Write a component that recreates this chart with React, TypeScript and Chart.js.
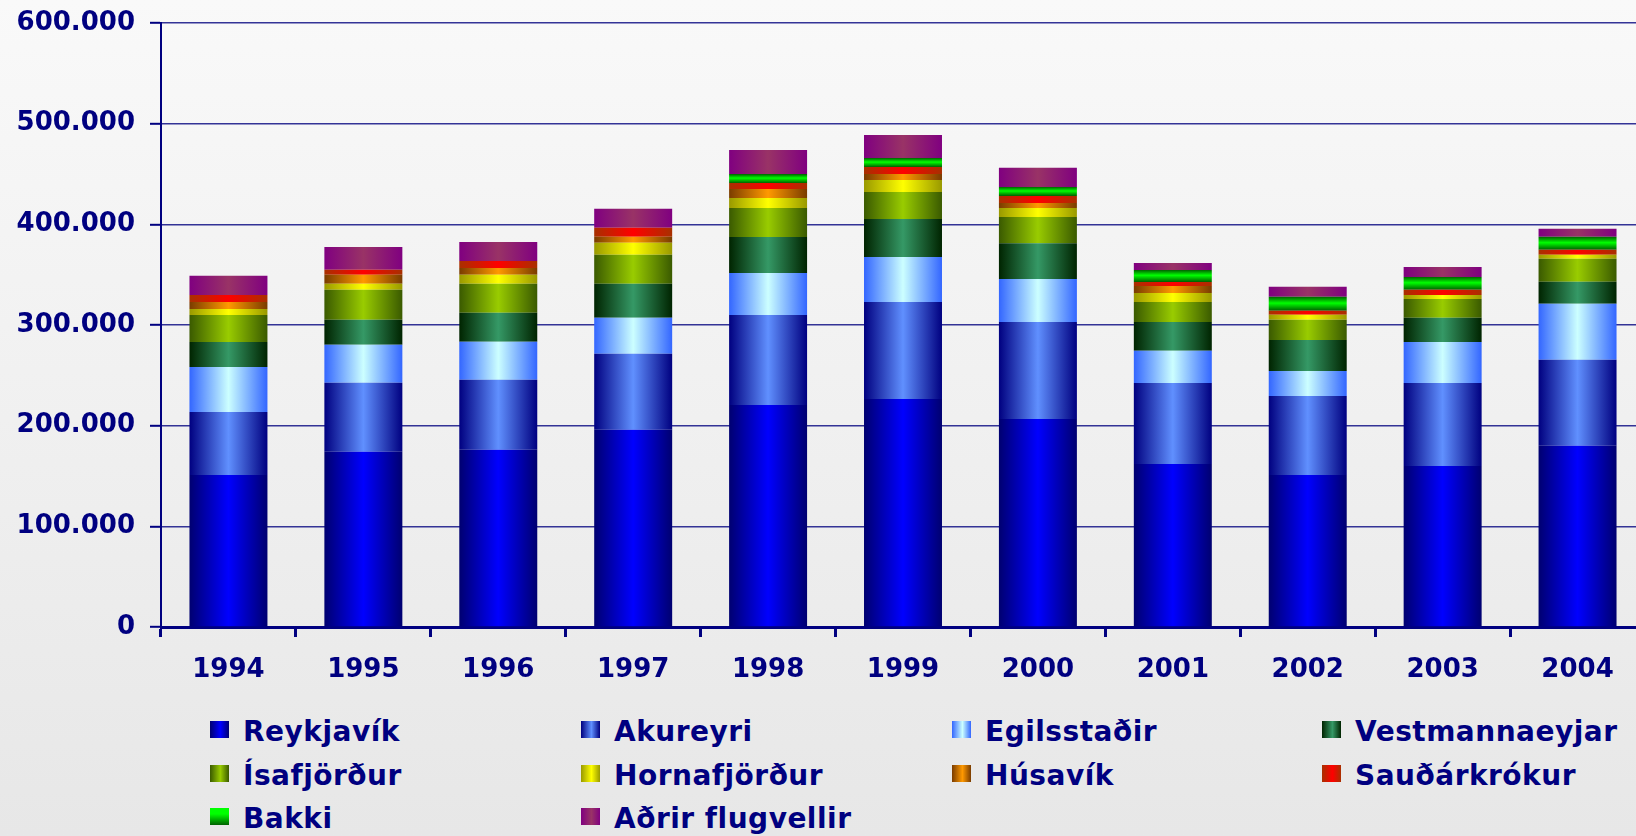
import React, { useEffect, useRef } from 'react';
import { Chart, registerables } from 'chart.js';

Chart.register(...registerables);

// ---------- data ----------
const years = ['1994', '1995', '1996', '1997', '1998', '1999', '2000', '2001', '2002', '2003', '2004'];

const reykjavik = [151000, 174000, 176000, 196000, 220500, 226500, 206500, 162000, 151000, 160000, 180000];
const akureyri = [62600, 68600, 69600, 75500, 89400, 96300, 96400, 80500, 78500, 82500, 85400];
const egilsstadir = [44700, 37700, 37700, 35800, 41700, 44700, 42700, 31800, 24800, 40700, 55600];
const vestmannaeyjar = [24800, 24900, 28800, 33700, 35800, 37800, 35700, 28800, 30800, 23900, 21900];
const isafjordur = [26800, 29800, 28800, 28800, 28800, 26800, 25900, 19800, 20100, 18800, 22800];
const hornafjordur = [6000, 5900, 8900, 11900, 9900, 11900, 9100, 9000, 4900, 4000, 4000];
const husavik = [7000, 9000, 6900, 6000, 9000, 6000, 5000, 6900, 0, 0, 0];
const saudarkrokur = [7000, 4900, 7000, 8900, 5900, 6900, 6900, 4000, 4000, 5000, 5000];
const bakki = [0, 0, 0, 0, 9000, 9000, 9000, 11900, 13900, 12900, 12900];
const adrir = [18900, 22600, 18800, 18900, 23800, 22800, 18900, 7000, 9900, 9900, 8000];

const seriesNames = [
  'Reykjavík', 'Akureyri', 'Egilsstaðir', 'Vestmannaeyjar', 'Ísafjörður',
  'Hornafjörður', 'Húsavík', 'Sauðárkrókur', 'Bakki', 'Aðrir flugvellir',
];
const seriesValues = [
  reykjavik, akureyri, egilsstadir, vestmannaeyjar, isafjordur,
  hornafjordur, husavik, saudarkrokur, bakki, adrir,
];

const yTickValues = [0, 100000, 200000, 300000, 400000, 500000, 600000];

// ---------- styles ----------
const edgeColors = ['#000070', '#000080', '#3366FF', '#002400', '#3A5A00', '#999900', '#7A3C00', '#A83000', '#006000', '#800080'];
const midColors = ['#0000FF', '#6090FF', '#CCFFFF', '#359966', '#99CC00', '#FFFF00', '#FF9900', '#FF0000', '#00FF00', '#993366'];
const verticalGradient = [false, false, false, false, false, false, false, false, true, false];

const NAVY = '#000080';
const CANVAS_W = 1660;
const CANVAS_H = 700;
const AREA_LEFT = 161;
const AREA_TOP_PAD = 23;
const AREA_BOTTOM = 627;
const AREA_RIGHT = 1645;
const BAR_PCT = 0.578;

const legendCols = [210, 581, 952, 1322];
const legendRows = [721, 765, 808];

function fmt(v: number): string {
  return String(v).replace(/\B(?=(\d{3})+(?!\d))/g, '.');
}

function legendBoxBg(i: number): string {
  if (verticalGradient[i]) {
    return `linear-gradient(to bottom, ${midColors[i]} 0%, ${midColors[i]} 35%, ${edgeColors[i]} 100%)`;
  }
  return `linear-gradient(to right, ${edgeColors[i]} 0%, ${midColors[i]} 55%, ${edgeColors[i]} 100%)`;
}

export default function App() {
  const canvasRef = useRef<HTMLCanvasElement | null>(null);

  useEffect(() => {
    const canvas = canvasRef.current;
    if (!canvas) return;

    const makeBg = (si: number) => (ctx: any) => {
      const chart = ctx.chart;
      if (ctx.type !== 'data' || !chart.chartArea || !chart.scales || !chart.scales.x) return midColors[si];
      const xs = chart.scales.x;
      const ys = chart.scales.y;
      const i = ctx.dataIndex;
      const c2d = chart.ctx as CanvasRenderingContext2D;
      if (verticalGradient[si]) {
        let below = 0;
        for (let k = 0; k < si; k++) below += seriesValues[k][i];
        const top = below + seriesValues[si][i];
        const y0 = ys.getPixelForValue(top);
        const y1 = ys.getPixelForValue(below);
        if (!isFinite(y0) || !isFinite(y1) || y0 === y1) return midColors[si];
        const g = c2d.createLinearGradient(0, y0, 0, y1);
        g.addColorStop(0, edgeColors[si]);
        g.addColorStop(0.45, midColors[si]);
        g.addColorStop(1, edgeColors[si]);
        return g;
      }
      const cx = xs.getPixelForValue(i);
      const w = (xs.width / years.length) * BAR_PCT;
      if (!isFinite(cx)) return midColors[si];
      const g = c2d.createLinearGradient(cx - w / 2, 0, cx + w / 2, 0);
      g.addColorStop(0, edgeColors[si]);
      g.addColorStop(0.5, midColors[si]);
      g.addColorStop(1, edgeColors[si]);
      return g;
    };

    const chart = new Chart(canvas, {
      type: 'bar',
      data: {
        labels: years,
        datasets: seriesNames.map((name, si) => ({
          label: name,
          data: seriesValues[si],
          backgroundColor: makeBg(si),
          borderWidth: 0,
          barPercentage: BAR_PCT,
          categoryPercentage: 1,
        })),
      },
      options: {
        responsive: false,
        animation: false,
        devicePixelRatio: 1,
        layout: {
          padding: { top: AREA_TOP_PAD, right: CANVAS_W - AREA_RIGHT, left: 0, bottom: 0 },
        },
        plugins: {
          legend: { display: false },
          tooltip: { enabled: false },
          title: { display: false },
        },
        scales: {
          x: {
            stacked: true,
            afterFit: (s: any) => {
              s.height = CANVAS_H - AREA_BOTTOM;
              s.paddingLeft = 0;
              s.paddingRight = 0;
            },
            grid: {
              offset: true,
              drawOnChartArea: false,
              drawTicks: true,
              tickLength: 10,
              tickWidth: 3,
              tickColor: NAVY,
              color: NAVY,
            },
            border: { display: true, width: 3, color: NAVY },
            ticks: {
              color: NAVY,
              padding: 18,
              maxRotation: 0,
              font: { family: 'DejaVu Sans', weight: 'bold', size: 26 },
            },
          },
          y: {
            stacked: true,
            min: 0,
            max: 600000,
            afterFit: (s: any) => {
              s.width = AREA_LEFT;
              s.paddingTop = 0;
              s.paddingBottom = 0;
            },
            afterBuildTicks: (s: any) => { s.ticks = yTickValues.map((v) => ({ value: v })); },
            grid: {
              color: 'rgba(30,30,140,0.9)',
              lineWidth: 1.6,
              drawTicks: true,
              tickLength: 11,
              tickWidth: 2,
              tickColor: NAVY,
            },
            border: { display: true, width: 2, color: NAVY },
            ticks: {
              color: NAVY,
              padding: 15,
              font: { family: 'DejaVu Sans', weight: 'bold', size: 26 },
              callback: (v: any) => fmt(Number(v)),
            },
          },
        },
      },
    } as any);

    return () => { chart.destroy(); };
  }, []);

  return (
    <div
      style={{
        position: 'fixed',
        left: 0,
        top: 0,
        width: 1636,
        height: 836,
        overflow: 'hidden',
        background: 'linear-gradient(to bottom, #f9f9f9 0%, #e7e7e7 100%)',
      }}
    >
      <canvas
        ref={canvasRef}
        width={CANVAS_W}
        height={CANVAS_H}
        style={{ position: 'absolute', left: 0, top: 0, width: CANVAS_W, height: CANVAS_H }}
      />
      {seriesNames.map((name, i) => {
        const col = i % 4;
        const row = Math.floor(i / 4);
        const left = legendCols[col];
        const top = legendRows[row];
        return (
          <div key={name} style={{ position: 'absolute', left, top, height: 20, whiteSpace: 'nowrap' }}>
            <div
              style={{
                position: 'absolute',
                left: 0,
                top: 0,
                width: 19,
                height: 17,
                background: legendBoxBg(i),
              }}
            />
            <div
              style={{
                position: 'absolute',
                left: 33,
                top: -3,
                fontFamily: 'DejaVu Sans',
                fontWeight: 'bold',
                fontSize: 28,
                lineHeight: '28px',
                letterSpacing: 0.5,
                color: NAVY,
              }}
            >
              {name}
            </div>
          </div>
        );
      })}
    </div>
  );
}
